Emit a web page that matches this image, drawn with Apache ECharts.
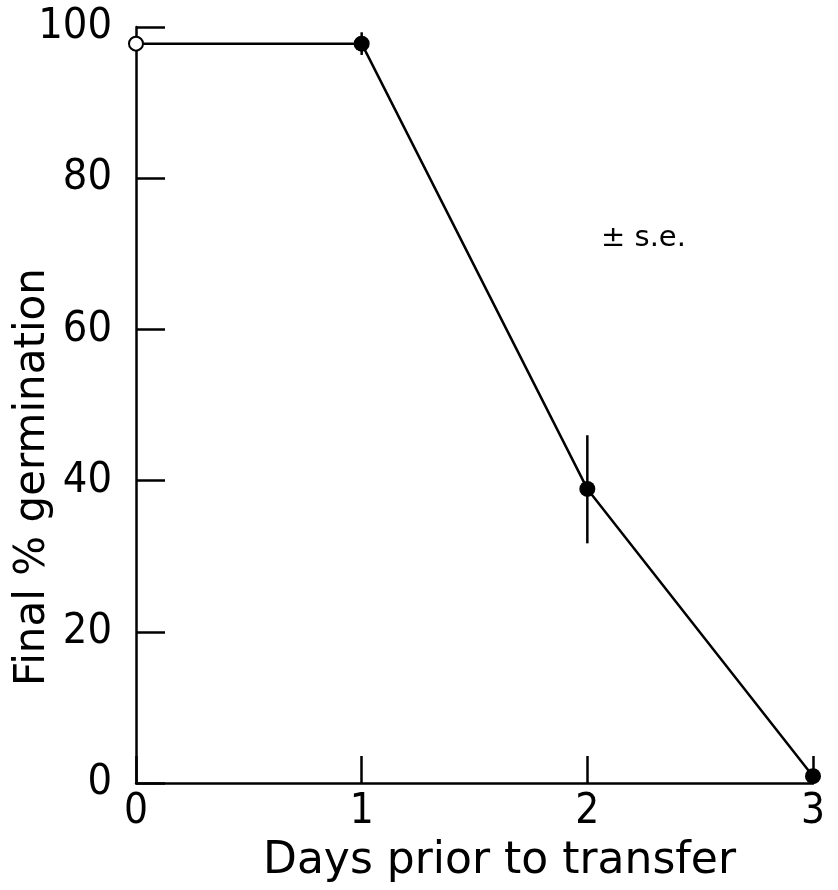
<!DOCTYPE html>
<html>
<head>
<meta charset="utf-8">
<script src="https://cdn.jsdelivr.net/npm/echarts@6/dist/echarts.min.js"></script>
<style>
html,body{margin:0;padding:0;background:#fff;}
#chart{width:838px;height:890px;}
</style>
</head>
<body>
<div id="chart"></div>
<script>
var days = [0, 1, 2, 3];
var germination = [97.8, 97.8, 38.9, 0.9];
var seLow = [null, 96.3, 31.7, null];
var seHigh = [null, 99.3, 46.0, null];
var xTicks = [0, 1, 2, 3];
var yTicks = [0, 20, 40, 60, 80, 100];

var FONT = '"DejaVu Sans Condensed", "DejaVu Sans", sans-serif';
var TFONT = '"DejaVu Sans", sans-serif';

var lineData = days.map(function (d, i) {
  var item = { value: [d, germination[i]] };
  if (i === 0) {
    item.symbol = 'emptyCircle';
    item.symbolSize = 14;
    item.itemStyle = { color: '#000', borderColor: '#000', borderWidth: 2.5 };
  }
  return item;
});

var errData = [];
days.forEach(function (d, i) {
  if (seLow[i] != null) errData.push([d, seLow[i], seHigh[i]]);
});

var chart = echarts.init(document.getElementById('chart'), null, { renderer: 'canvas' });
chart.setOption({
  animation: false,
  backgroundColor: '#fff',
  grid: { left: 136, right: 25, top: 27, bottom: 107, containLabel: false, outerBoundsMode: 'none' },
  xAxis: {
    type: 'value',
    min: xTicks[0], max: xTicks[xTicks.length - 1], interval: 1,
    name: 'Days prior to transfer',
    nameLocation: 'middle',
    nameGap: 57,
    nameMoveOverlap: false,
    nameTextStyle: { fontFamily: TFONT, fontSize: 44, color: '#000', padding: [0, 0, 0, 50] },
    axisLine: { lineStyle: { color: '#000', width: 2.5 } },
    axisTick: { inside: true, length: 27, lineStyle: { color: '#000', width: 2.5 } },
    axisLabel: { fontFamily: FONT, fontSize: 42, color: '#000', margin: 8 },
    splitLine: { show: false }
  },
  yAxis: {
    type: 'value',
    min: yTicks[0], max: yTicks[yTicks.length - 1], interval: 20,
    name: 'Final % germination',
    nameLocation: 'middle',
    nameGap: 82,
    nameMoveOverlap: false,
    nameTextStyle: { fontFamily: TFONT, fontSize: 42, color: '#000', padding: [0, 144, 0, 0] },
    axisLine: { lineStyle: { color: '#000', width: 2.5 } },
    axisTick: { inside: true, length: 29, lineStyle: { color: '#000', width: 2.5 } },
    axisLabel: { fontFamily: FONT, fontSize: 43, color: '#000', margin: 24 },
    splitLine: { show: false }
  },
  graphic: [{
    type: 'text',
    left: 601, top: 224,
    style: { text: '± s.e.', fontFamily: TFONT, fontSize: 29, fill: '#000' }
  }],
  series: [
    {
      type: 'line',
      data: lineData,
      symbol: 'circle',
      symbolSize: 16,
      lineStyle: { color: '#000', width: 2.5 },
      itemStyle: { color: '#000' },
      clip: false,
      z: 3
    },
    {
      type: 'custom',
      data: errData,
      renderItem: function (params, api) {
        var x = api.value(0);
        var p1 = api.coord([x, api.value(1)]);
        var p2 = api.coord([x, api.value(2)]);
        return {
          type: 'line',
          shape: { x1: p1[0], y1: p1[1], x2: p2[0], y2: p2[1] },
          style: { stroke: '#000', lineWidth: 2.5 }
        };
      },
      z: 2
    }
  ]
});
</script>
</body>
</html>
